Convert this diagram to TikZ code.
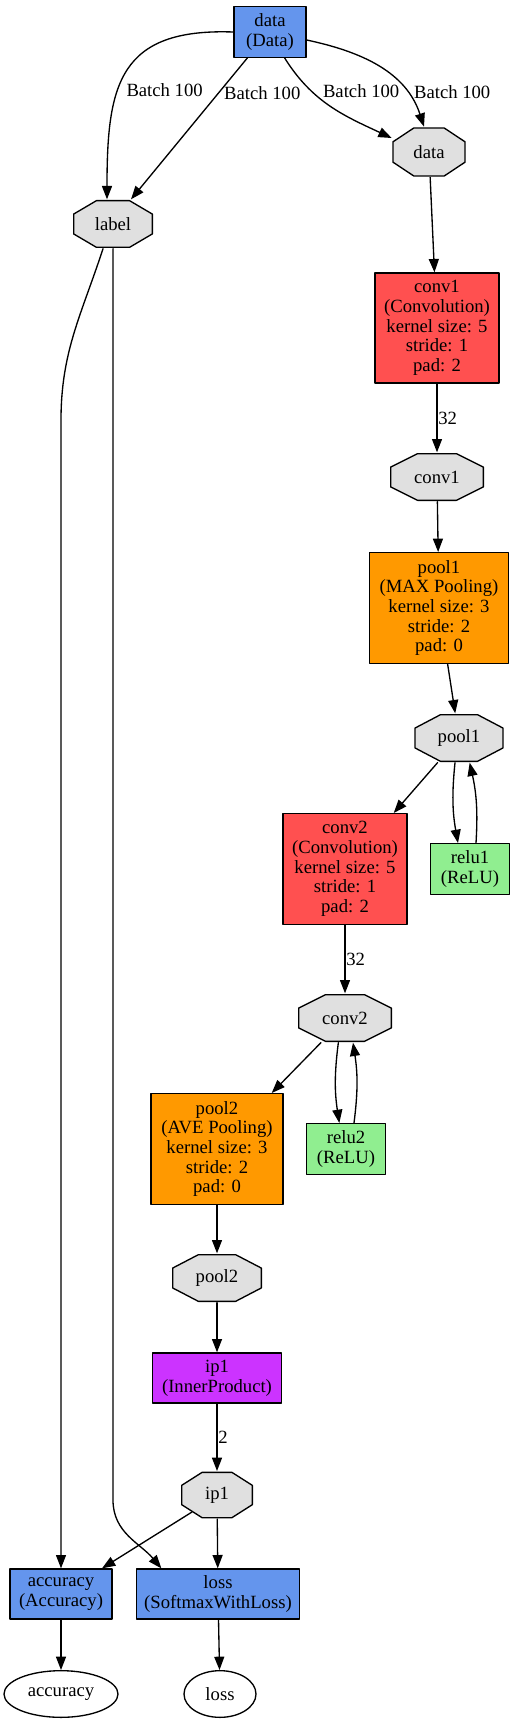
\documentclass[tikz,border=0pt]{standalone}
\usepackage{fontspec}
\setmainfont{Liberation Serif}
\usetikzlibrary{arrows.meta,shapes.geometric,calc}
\definecolor{datablue}{HTML}{6495ED}
\definecolor{convred}{HTML}{FF5050}
\definecolor{poolorange}{HTML}{FF9900}
\definecolor{relugreen}{HTML}{90EE90}
\definecolor{ippurple}{HTML}{CC33FF}
\definecolor{blobgray}{HTML}{E0E0E0}

\begin{document}
\begin{tikzpicture}[x=0.75pt,y=0.75pt,line cap=round,line join=round,line width=1pt,>={Triangle[length=10pt,width=7.5pt]},
  every node/.style={font=\fontsize{14}{14.8}\selectfont,align=center},
  layer/.style={draw,rectangle,inner sep=2pt},
  blob/.style={rectangle,inner sep=2pt,path picture={
    \coordinate (bnw) at (path picture bounding box.north west);
    \coordinate (bne) at (path picture bounding box.north east);
    \coordinate (bse) at (path picture bounding box.south east);
    \coordinate (bsw) at (path picture bounding box.south west);
    \filldraw[fill=blobgray,line width=1pt]
      ($(bnw)!.293!(bne)+(0,-.5pt)$) -- ($(bnw)!.707!(bne)+(0,-.5pt)$)
      -- ($(bne)!.293!(bse)+(-.5pt,0)$) -- ($(bne)!.707!(bse)+(-.5pt,0)$)
      -- ($(bse)!.293!(bsw)+(0,.5pt)$) -- ($(bse)!.707!(bsw)+(0,.5pt)$)
      -- ($(bsw)!.293!(bnw)+(.5pt,0)$) -- ($(bsw)!.707!(bnw)+(.5pt,0)$) -- cycle;}},
  outp/.style={draw,ellipse,fill=white,inner sep=1pt},
  elabel/.style={anchor=west,inner sep=0.5pt}]
\useasboundingbox (0,0) rectangle (515,-1733);
% layers and blobs
\node[layer,fill=datablue,minimum width=54pt,minimum height=38pt] (data) at (270,-32) {data\\(Data)};
\node[blob,minimum width=55pt,minimum height=37pt] (datab) at (429,-152) {data};
\node[blob,minimum width=60pt,minimum height=36pt] (lbl) at (113,-224) {label};
\node[layer,fill=convred,minimum width=93pt,minimum height=82.5pt] (conv1) at (437,-328) {conv1\\(Convolution)\\kernel size: 5\\stride: 1\\pad: 2};
\node[blob,minimum width=70.5pt,minimum height=36pt] (conv1b) at (437,-477) {conv1};
\node[layer,fill=poolorange,minimum width=104pt,minimum height=83pt] (pool1) at (439,-608) {pool1\\(MAX Pooling)\\kernel size: 3\\stride: 2\\pad: 0};
\node[blob,minimum width=67pt,minimum height=36pt] (pool1b) at (459,-738) {pool1};
\node[layer,fill=convred,minimum width=93pt,minimum height=83pt] (conv2) at (345,-869) {conv2\\(Convolution)\\kernel size: 5\\stride: 1\\pad: 2};
\node[layer,fill=relugreen,minimum width=59pt,minimum height=38pt] (relu1) at (470,-869) {relu1\\(ReLU)};
\node[blob,minimum width=70.5pt,minimum height=36pt] (conv2b) at (345,-1018) {conv2};
\node[layer,fill=poolorange,minimum width=99pt,minimum height=83pt] (pool2) at (217,-1149) {pool2\\(AVE Pooling)\\kernel size: 3\\stride: 2\\pad: 0};
\node[layer,fill=relugreen,minimum width=59pt,minimum height=38pt] (relu2) at (346,-1149) {relu2\\(ReLU)};
\node[blob,minimum width=67.5pt,minimum height=36pt] (pool2b) at (217,-1278) {pool2};
\node[layer,fill=ippurple,minimum width=97pt,minimum height=37.5pt] (ip1) at (217,-1378) {ip1\\(InnerProduct)};
\node[blob,minimum width=54pt,minimum height=35pt] (ip1b) at (217,-1495) {ip1};
\node[layer,fill=datablue,minimum width=76.5pt,minimum height=37.5pt] (acc) at (61,-1594) {accuracy\\(Accuracy)};
\node[layer,fill=datablue,minimum width=122pt,minimum height=37.5pt] (loss) at (218,-1594) {loss\\(SoftmaxWithLoss)};
\node[outp,minimum width=85.5pt,minimum height=35pt] (accout) at (61,-1694) {accuracy};
\node[outp,minimum width=54pt,minimum height=35pt] (lossout) at (220,-1694) {loss};
\coordinate (accbend) at (61,-420);
\coordinate (lossbend) at (113,-1500);
% data edges
\draw[->] (data.west) to[out=178,in=90,looseness=1.4] node[pos=.6,elabel,xshift=5pt]{Batch 100} ([xshift=-4.5pt]lbl.north);
\draw[->] ([xshift=-17pt]data.south) -- node[pos=.245,elabel,xshift=3pt]{Batch 100} ([xshift=13.5pt]lbl.north);
\draw[->] ([xshift=11pt]data.south) to[out=-58,in=155] node[pos=.3,elabel,xshift=8pt]{Batch 100} ([yshift=10.5pt]datab.west);
\draw[->] ([yshift=-6pt]data.east) to[out=-12,in=108] node[pos=.75,elabel,xshift=5pt]{Batch 100} ([xshift=-3.75pt]datab.north);
% main chain
\draw[->] (datab) -- (conv1);
\draw[->] (conv1) -- node[elabel]{32} (conv1b);
\draw[->] (conv1b) -- (pool1);
\draw[->] (pool1) -- (pool1b);
\draw[->] (pool1b) -- (conv2);
\draw[->] ([xshift=-3pt]pool1b.south) to[bend right=8] ([xshift=-9pt]relu1.north);
\draw[->] ([xshift=4.5pt]relu1.north) to[bend right=8] ([xshift=8pt]pool1b.south);
\draw[->] (conv2) -- node[elabel]{32} (conv2b);
\draw[->] (conv2b) -- (pool2);
\draw[->] ([xshift=-5pt]conv2b.south) to[bend right=8] ([xshift=-5pt]relu2.north);
\draw[->] ([xshift=6pt]relu2.north) to[bend right=8] ([xshift=6pt]conv2b.south);
\draw[->] (pool2) -- (pool2b);
\draw[->] (pool2b) -- (ip1);
\draw[->] (ip1) -- node[elabel]{2} (ip1b);
\draw[->] ([xshift=-18.75pt,yshift=5.25pt]ip1b.south) -- (acc);
\draw[->] (ip1b) -- (loss);
% label edges
\draw[->] ([xshift=-7.5pt]lbl.south) to[out=-108,in=90] (accbend) -- (acc);
\draw[->] (lbl.south) -- (lossbend) to[out=-90,in=130] ([xshift=19pt]loss.north west);
% outputs
\draw[->] (acc) -- (accout);
\draw[->] (loss) -- (lossout);
\end{tikzpicture}
\end{document}
